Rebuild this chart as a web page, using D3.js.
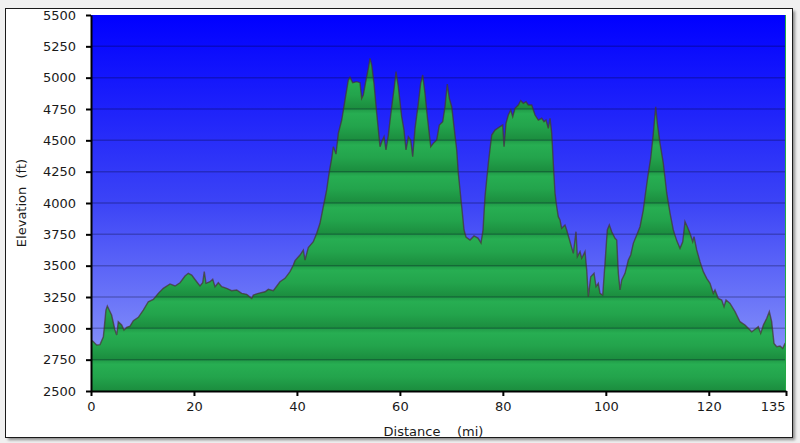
<!DOCTYPE html>
<html>
<head>
<meta charset="utf-8">
<script src="https://cdn.jsdelivr.net/npm/d3@7"></script>
<style>
  html, body { margin: 0; padding: 0; background: #f0f0f0; }
  svg { display: block; }
  text { font-family: "DejaVu Sans", Verdana, sans-serif; fill: #1a1a1a; white-space: pre; }
</style>
</head>
<body>
<svg id="chart" width="800" height="443"></svg>
<script>
// ---- data ----
const distance = [0,0.3,1.1,1.75,2.4,2.9,3.17,4.0,4.66,4.99,5.3,5.96,6.41,6.93,7.58,8.22,9.19,10.16,11.13,12.1,13.07,14.04,15.35,16.32,17.29,18.26,18.9,19.56,20.53,21.17,21.7,22.0,22.34,23.12,23.64,24.09,24.73,25.39,26.36,27.33,28.3,29.27,30.24,31.22,31.53,32.5,33.8,34.44,35.41,36.71,37.68,38.66,39.3,39.63,40.6,41.24,41.57,42.21,43.18,43.84,44.48,45.12,45.78,46.29,46.76,47.07,47.59,48.04,48.7,49.34,49.98,50.31,50.83,51.61,52.25,52.58,52.89,53.42,53.87,54.2,54.53,54.97,55.5,56.14,56.47,56.92,57.3,57.75,58.41,58.92,59.25,59.69,60.35,60.8,61.19,61.64,62.1,62.49,62.94,63.58,64.04,64.43,64.88,65.33,65.99,66.49,67.15,67.66,68.32,68.76,69.21,69.6,70.07,70.51,71.04,71.35,72.01,72.46,72.84,73.62,74.4,75.17,75.76,76.15,76.53,77.18,77.83,78.48,79.45,79.97,80.23,80.61,81.06,81.53,81.92,82.36,83.0,83.47,83.98,84.5,84.95,85.61,86.25,86.89,87.55,88.0,88.38,88.83,89.16,89.49,89.8,90.13,90.46,90.77,91.1,91.43,92.07,92.4,93.05,93.69,94.21,94.47,94.99,95.32,95.96,96.29,96.6,97.07,97.71,98.1,98.54,98.87,99.4,99.84,100.29,100.68,101.15,101.79,102.12,102.43,102.76,103.09,103.73,104.37,104.84,105.34,106.0,106.64,107.28,107.61,108.25,108.72,109.23,109.69,110.0,110.53,111.17,111.83,112.47,113.11,113.77,114.41,114.94,115.38,115.83,116.35,116.88,117.13,117.66,118.3,118.94,119.6,120.24,120.88,121.21,121.85,122.51,122.96,123.35,124.13,125.1,126.07,127.04,127.68,128.34,128.79,129.62,130.09,130.6,131.26,131.76,132.22,132.67,133.2,133.84,134.36,134.81,135];
const elevation = [2900,2900,2867,2870,2933,3146,3178,3106,2987,2947,3053,3027,2987,3008,3018,3061,3088,3146,3212,3231,3279,3319,3354,3338,3364,3417,3439,3425,3372,3338,3364,3452,3359,3372,3391,3332,3364,3332,3319,3300,3306,3279,3271,3239,3266,3279,3292,3311,3300,3372,3399,3452,3505,3540,3585,3625,3545,3645,3691,3758,3838,3970,4104,4250,4357,4449,4390,4556,4662,4822,4981,5003,4960,4968,4960,4835,4862,4981,5075,5154,5101,4955,4716,4449,4489,4529,4423,4542,4768,4928,5048,4928,4689,4582,4423,4529,4503,4370,4596,4795,4955,5021,4875,4689,4449,4476,4503,4622,4649,4768,4948,4835,4768,4609,4423,4237,3970,3785,3729,3705,3737,3720,3681,3785,4050,4317,4542,4582,4609,4622,4449,4636,4702,4742,4689,4756,4782,4816,4795,4808,4782,4782,4702,4662,4676,4649,4662,4596,4676,4556,4317,4080,3970,3891,3864,3798,3824,3785,3691,3598,3771,3572,3612,3559,3612,3465,3252,3412,3439,3332,3359,3279,3266,3519,3785,3824,3771,3718,3705,3439,3306,3386,3439,3545,3585,3678,3745,3811,3944,4050,4237,4357,4556,4768,4636,4476,4317,4080,3920,3785,3700,3638,3691,3851,3811,3758,3691,3731,3625,3532,3452,3399,3359,3279,3306,3239,3226,3173,3226,3199,3133,3053,3027,3000,2973,2987,3013,2960,3027,3080,3133,3053,2880,2853,2859,2840,2880,2880];
const xTicks = [0, 20, 40, 60, 80, 100, 120, 135];
const yTicks = [2500, 2750, 3000, 3250, 3500, 3750, 4000, 4250, 4500, 4750, 5000, 5250, 5500];
const xTitle = "Distance    (mi)";
const yTitle = "Elevation  (ft)";

// ---- layout ----
const svg = d3.select("#chart");
const L = 91, R = 786, T = 15, B = 391;
const x = d3.scaleLinear().domain([0, 135]).range([L, R]);
const y = d3.scaleLinear().domain([2500, 5500]).range([B, T]);

const defs = svg.append("defs");
const sky = defs.append("linearGradient").attr("id", "sky")
  .attr("x1", 0).attr("y1", 0).attr("x2", 0).attr("y2", 1);
sky.append("stop").attr("offset", 0).attr("stop-color", "#0000ff");
sky.append("stop").attr("offset", 0.5).attr("stop-color", "#3c44f6");
sky.append("stop").attr("offset", 1).attr("stop-color", "#98a4fa");

const band = defs.append("linearGradient").attr("id", "band")
  .attr("gradientUnits", "userSpaceOnUse").attr("spreadMethod", "repeat")
  .attr("x1", 0).attr("x2", 0).attr("y1", y(5500)).attr("y2", y(5250));
band.append("stop").attr("offset", 0).attr("stop-color", "#209a47");
band.append("stop").attr("offset", 0.15).attr("stop-color", "#27ae52");
band.append("stop").attr("offset", 0.55).attr("stop-color", "#23a44c");
band.append("stop").attr("offset", 1).attr("stop-color", "#1b8c3e");

const shadow = defs.append("filter").attr("id", "sh").attr("x", "-5%").attr("y", "-5%").attr("width", "110%").attr("height", "110%");
shadow.append("feGaussianBlur").attr("stdDeviation", 1.5);

// frame with shadow
svg.append("rect").attr("x", 8).attr("y", 11).attr("width", 787).attr("height", 429)
  .attr("fill", "#8a8a8a").attr("filter", "url(#sh)");
svg.append("rect").attr("x", 5.5).attr("y", 8.5).attr("width", 787).attr("height", 429)
  .attr("fill", "#ffffff").attr("stroke", "#1a1a1a").attr("stroke-width", 1);

// plot background
svg.append("rect").attr("x", L).attr("y", T).attr("width", R - L).attr("height", B - T)
  .attr("fill", "url(#sky)");

// area
const pts = distance.map((d, i) => [d, elevation[i]]);
const area = d3.area().x(d => x(d[0])).y0(y(2500)).y1(d => y(d[1]));
const line = d3.line().x(d => x(d[0])).y(d => y(d[1]));
svg.append("path").datum(pts).attr("d", area).attr("fill", "url(#band)");

// grid lines
svg.append("g").selectAll("line").data(yTicks.filter(v => v > 2500 && v < 5500)).join("line")
  .attr("x1", L).attr("x2", R).attr("y1", d => y(d)).attr("y2", d => y(d))
  .attr("stroke", "rgba(0,0,30,0.25)").attr("stroke-width", 1.5);

svg.append("path").datum(pts).attr("d", line).attr("fill", "none")
  .attr("stroke", "rgba(70,50,50,0.7)").attr("stroke-width", 1.4);

// right edge green line
svg.append("line").attr("x1", R - 0.5).attr("x2", R - 0.5).attr("y1", T).attr("y2", B)
  .attr("stroke", "#22aa44").attr("stroke-width", 1);

// axes
const fmt = d3.format("d");
const yAxis = d3.axisLeft(y).tickValues(yTicks).tickFormat(fmt).tickSize(5).tickSizeOuter(0).tickPadding(10);
const gy = svg.append("g").attr("transform", `translate(${L},0)`).call(yAxis);
const xAxis = d3.axisBottom(x).tickValues(xTicks).tickFormat(fmt).tickSize(5).tickSizeOuter(0).tickPadding(6);
const gx = svg.append("g").attr("transform", `translate(0,${B})`).call(xAxis);
[gx, gy].forEach(g => {
  g.select(".domain").attr("stroke", "#000").attr("stroke-width", 2);
  g.selectAll(".tick line").attr("stroke", "#000").attr("stroke-width", 2);
  g.selectAll("text").attr("font-size", 13).attr("font-family", "DejaVu Sans").attr("fill", "#1a1a1a");
});
gx.selectAll(".tick text").filter(d => d === 135).attr("text-anchor", "end").attr("dx", -1);

// titles
svg.append("text").attr("x", (L + R) / 2 - 5).attr("y", 436).attr("text-anchor", "middle")
  .attr("font-size", 13).text(xTitle);
svg.append("text").attr("transform", `translate(26,${(T + B) / 2}) rotate(-90)`)
  .attr("text-anchor", "middle").attr("font-size", 13).text(yTitle);
</script>
</body>
</html>
